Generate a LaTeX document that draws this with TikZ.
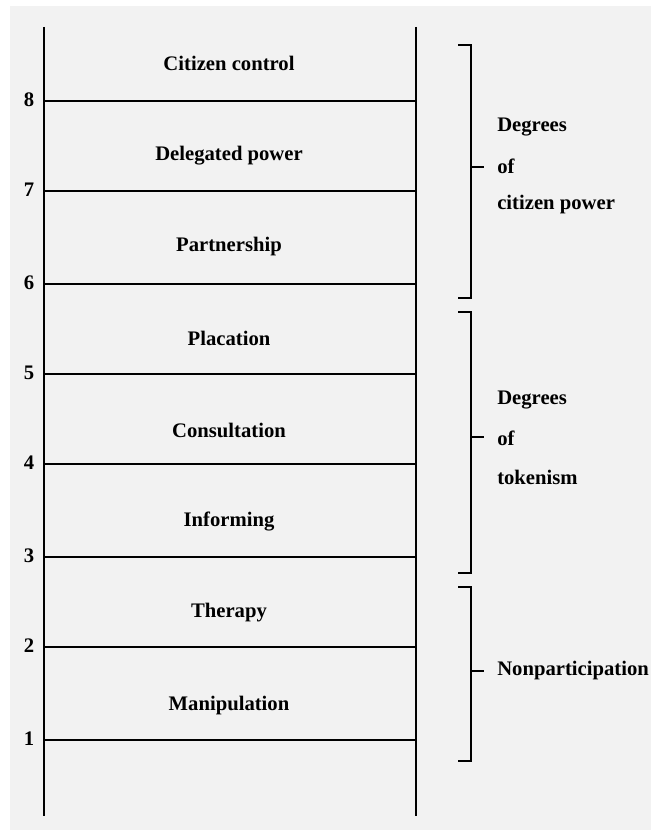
\documentclass[tikz,border=0pt]{standalone}
\usepackage{fontspec}
\setmainfont{Liberation Serif}
\begin{document}
\begin{tikzpicture}[x=0.75pt,y=-0.75pt,
  ladderline/.style={line width=1.6pt,line cap=butt},
  bracketline/.style={line width=1.5pt,line join=miter},
  txt/.style={font=\bfseries\fontsize{15.5}{18}\selectfont,inner sep=0pt,text=black},
  rungnum/.style={txt,anchor=center},
]
\definecolor{panelgray}{HTML}{F2F2F2}
% canvas and panel
\fill[white] (0,0) rectangle (651,830);
\fill[panelgray] (10,6) rectangle (651,830);
\useasboundingbox (0,0) rectangle (651,830);

% rails of the ladder
\coordinate (LT) at (44,27);
\coordinate (LB) at (44,816);
\coordinate (RT) at (416,27);
\coordinate (RB) at (416,816);
\draw[ladderline] (LT) -- (LB);
\draw[ladderline] (RT) -- (RB);

% rungs with their numbers
\foreach \n/\y in {8/101,7/191,6/284,5/374,4/464,3/557,2/647,1/740}{
  \coordinate (rl\n) at (44,\y);
  \coordinate (rr\n) at (416,\y);
  \draw[ladderline] (rl\n) -- (rr\n);
  \node[rungnum] (num\n) at (29,\y-1) {\n};
}

% names of the rungs
\foreach \nm/\y/\t in {a/63/Citizen control,b/156/Delegated power,c/247/Partnership,
  d/338/Placation,e/430/Consultation,f/521/Informing,g/613/Therapy,h/706/Manipulation}{
  \node[txt] (lab\nm) at (229,\y) {\t};
}

% brackets grouping the rungs
\coordinate (b1t) at (458,45);
\coordinate (b1b) at (458,298);
\coordinate (b1m) at (471,167);
\draw[bracketline] (b1t) -| (b1m) |- (b1b);
\draw[bracketline] (b1m) -- ++(13,0) coordinate (b1tick);

\coordinate (b2t) at (458,312);
\coordinate (b2b) at (458,573);
\coordinate (b2m) at (471,437);
\draw[bracketline] (b2t) -| (b2m) |- (b2b);
\draw[bracketline] (b2m) -- ++(13,0) coordinate (b2tick);

\coordinate (b3t) at (458,587);
\coordinate (b3b) at (458,761);
\coordinate (b3m) at (471,671);
\draw[bracketline] (b3t) -| (b3m) |- (b3b);
\draw[bracketline] (b3m) -- ++(13,0) coordinate (b3tick);

% group captions
\node[txt,anchor=west] (g1a) at (497,127) {Degrees};
\node[txt,anchor=west] (g1b) at (497,166) {of};
\node[txt,anchor=west] (g1c) at (497,205) {citizen power};
\node[txt,anchor=west] (g2a) at (497,400) {Degrees};
\node[txt,anchor=west] (g2b) at (497,438) {of};
\node[txt,anchor=west] (g2c) at (497,477) {tokenism};
\node[txt,anchor=west] (g3a) at (497,671) {Nonparticipation};
\end{tikzpicture}
\end{document}
